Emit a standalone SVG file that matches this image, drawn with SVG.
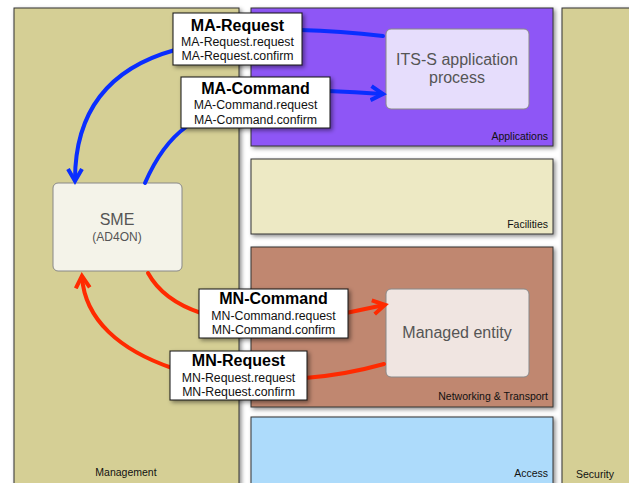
<svg xmlns="http://www.w3.org/2000/svg" width="629" height="483" viewBox="0 0 629 483">
<defs>
<filter id="sh" x="-10%" y="-10%" width="130%" height="130%">
<feDropShadow dx="2" dy="2" stdDeviation="2" flood-color="#000" flood-opacity="0.45"/>
</filter>
<marker id="ab" markerUnits="userSpaceOnUse" markerWidth="20" markerHeight="20" refX="12" refY="8" orient="auto" viewBox="0 0 20 16">
<path d="M1,1 L13,8 L1,15" fill="none" stroke="#0A2EFF" stroke-width="4" stroke-linejoin="miter"/>
</marker>
<marker id="ar" markerUnits="userSpaceOnUse" markerWidth="20" markerHeight="20" refX="12" refY="8" orient="auto" viewBox="0 0 20 16">
<path d="M1,1 L13,8 L1,15" fill="none" stroke="#FF2A00" stroke-width="4" stroke-linejoin="miter"/>
</marker>
</defs>
<style>
.panel{stroke:#333;stroke-width:1;filter:url(#sh)}
.plabel{font-family:"Liberation Sans",Arial,sans-serif;font-size:10.5px;fill:#111}
.node{stroke:#888;stroke-width:1}
.ntext{font-family:"Liberation Sans",Arial,sans-serif;font-size:16px;fill:#555;text-anchor:middle}
.lbox{fill:#fff;stroke:#111;stroke-width:1;filter:url(#sh)}
.ltitle{font-family:"Liberation Sans",Arial,sans-serif;font-size:16px;font-weight:bold;fill:#000;text-anchor:middle}
.lline{font-family:"Liberation Sans",Arial,sans-serif;font-size:12.3px;fill:#111;text-anchor:middle}
.blue{fill:none;stroke:#0A2EFF;stroke-width:4;stroke-linecap:round}
.red{fill:none;stroke:#FF2A00;stroke-width:4;stroke-linecap:round}
</style>
<rect width="629" height="483" fill="#fff"/>
<g id="management">
<rect class="panel" x="14" y="8" width="225" height="490" fill="#D5CF95"/>
<text class="plabel" x="126" y="476" text-anchor="middle">Management</text>
</g>
<g id="applications">
<rect class="panel" x="251" y="8" width="302" height="138" fill="#8E57F6"/>
<text class="plabel" x="548" y="140" text-anchor="end">Applications</text>
</g>
<g id="facilities">
<rect class="panel" x="251" y="159" width="302" height="75" fill="#EDE9C4"/>
<text class="plabel" x="548" y="228" text-anchor="end">Facilities</text>
</g>
<g id="networking">
<rect class="panel" x="251" y="247" width="302" height="160" fill="#C0876F"/>
<text class="plabel" x="548" y="400" text-anchor="end">Networking &amp; Transport</text>
</g>
<g id="access">
<rect class="panel" x="251" y="417" width="302" height="80" fill="#ADDBFB"/>
<text class="plabel" x="548" y="477" text-anchor="end">Access</text>
</g>
<g id="security">
<rect class="panel" x="562" y="8" width="80" height="490" fill="#D5CF95"/>
<text class="plabel" x="595" y="478" text-anchor="middle">Security</text>
</g>
<g id="its-s">
<rect class="node" x="386" y="29" width="143" height="80" rx="5" fill="#E6DDFC"/>
<text class="ntext" x="457" y="65">ITS-S application</text>
<text class="ntext" x="457" y="83">process</text>
</g>
<g id="managed-entity">
<rect class="node" x="386" y="289" width="143" height="88" rx="5" fill="#F0E5E1"/>
<text class="ntext" x="457" y="338">Managed entity</text>
</g>
<g id="sme">
<rect class="node" x="53" y="183" width="129" height="88" rx="5" fill="#F4F3E9"/>
<text class="ntext" x="117" y="225">SME</text>
<text class="ntext" x="117" y="241" style="font-size:12px">(AD4ON)</text>
</g>
<g id="connectors">
<path class="blue" d="M383,36 Q340,31 300,30"/>
<path class="blue" d="M175,50 C110,68 75,110 75,180" marker-end="url(#ab)"/>
<path class="blue" d="M145,183 C155,160 168,140 186,127"/>
<path class="blue" d="M328,91 Q355,92 382,94" marker-end="url(#ab)"/>
<path class="red" d="M148,273 C160,295 180,306 201,313"/>
<path class="red" d="M346,313 Q365,309 384,305" marker-end="url(#ar)"/>
<path class="red" d="M384,364 Q345,375 305,378"/>
<path class="red" d="M172,368 C120,350 85,320 82,277" marker-end="url(#ar)"/>
</g>
<g id="ma-request">
<rect class="lbox" x="173" y="13" width="129" height="52"/>
<text class="ltitle" x="237.5" y="31">MA-Request</text>
<text class="lline" x="237.5" y="46">MA-Request.request</text>
<text class="lline" x="237.5" y="60">MA-Request.confirm</text>
</g>
<g id="ma-command">
<rect class="lbox" x="181" y="77" width="149" height="51"/>
<text class="ltitle" x="255.5" y="94">MA-Command</text>
<text class="lline" x="255.5" y="109">MA-Command.request</text>
<text class="lline" x="255.5" y="124">MA-Command.confirm</text>
</g>
<g id="mn-command">
<rect class="lbox" x="199" y="289" width="149" height="49"/>
<text class="ltitle" x="273.5" y="304">MN-Command</text>
<text class="lline" x="273.5" y="320">MN-Command.request</text>
<text class="lline" x="273.5" y="334">MN-Command.confirm</text>
</g>
<g id="mn-request">
<rect class="lbox" x="170" y="351" width="137" height="49"/>
<text class="ltitle" x="238.5" y="366">MN-Request</text>
<text class="lline" x="238.5" y="382">MN-Request.request</text>
<text class="lline" x="238.5" y="396">MN-Request.confirm</text>
</g>
</svg>
